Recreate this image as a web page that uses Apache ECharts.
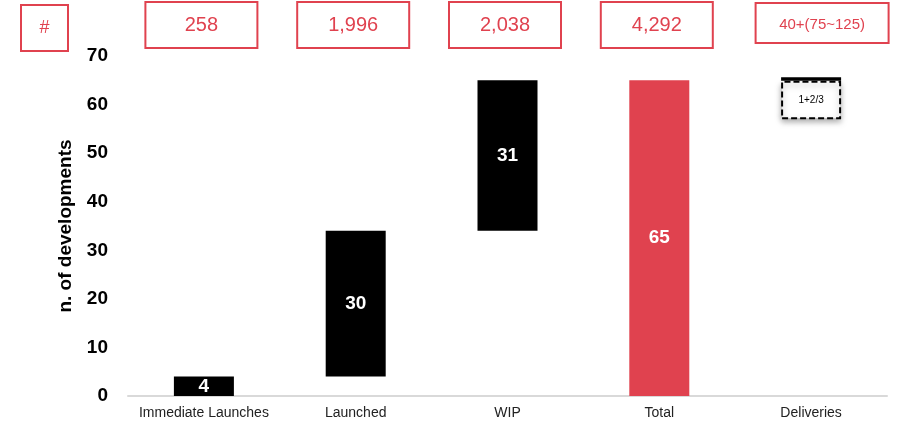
<!DOCTYPE html>
<html><head><meta charset="utf-8">
<script src="https://cdn.jsdelivr.net/npm/echarts@6/dist/echarts.min.js"></script>
<style>html,body{margin:0;padding:0;background:#fff}#c{width:903px;height:424px}</style>
</head><body><div id="c"></div>
<script>
const categories = ['Immediate Launches', 'Launched', 'WIP', 'Total', 'Deliveries'];
const headerLabels = ['258', '1,996', '2,038', '4,292', '40+(75~125)'];
const baseValues = [0, 4, 34, 0, 57];
const barValues = [4, 30, 31, 65, 7.9];
const topCapValues = [0, 0, 0, 0, 0.7];
const deliveriesNote = '1+2/3';
const yTicks = { min: 0, max: 70, interval: 10 };

const RED = '#e0424f';
const FONT = '"Liberation Sans", Arial, sans-serif';

const chart = echarts.init(document.getElementById('c'));
const mainData = barValues.map((v, i) => {
  if (i === 3) return { value: v, itemStyle: { color: RED } };
  if (i === 4) return {
    value: v,
    itemStyle: { color: '#fff', borderColor: '#000', borderWidth: 2, borderType: [6, 3],
      shadowColor: 'rgba(0,0,0,0.35)', shadowBlur: 6, shadowOffsetY: 3 },
    label: { formatter: deliveriesNote, color: '#000', fontSize: 10, fontWeight: 'normal' }
  };
  return { value: v, itemStyle: { color: '#000' } };
});

chart.setOption({
  animation: false,
  textStyle: { fontFamily: FONT },
  grid: { left: 128, right: 16, top: 56, bottom: 28 },
  graphic: [{
    type: 'group', left: 20, top: 4,
    children: [
      { type: 'rect', shape: { x: 0, y: 0, width: 47, height: 46 }, style: { fill: '#fff', stroke: RED, lineWidth: 2 } },
      { type: 'text', x: 23.5, y: 23, style: { text: '#', fill: RED, fontSize: 18, fontFamily: FONT, align: 'center', verticalAlign: 'middle' } }
    ]
  }],
  xAxis: [{
    type: 'category', data: categories, position: 'bottom',
    axisLine: { lineStyle: { color: '#d9d9d9', width: 2 } },
    axisTick: { show: false },
    axisLabel: { color: '#222', fontSize: 14, margin: 10, interval: 0, fontFamily: FONT }
  }, {
    type: 'category', data: headerLabels, position: 'top',
    axisLine: { show: false }, axisTick: { show: false },
    axisLabel: {
      margin: 9, interval: 0,
      formatter: (v, i) => (i === 4 ? '{p|}{s|' + v + '}\n{g|}' : '{n|' + v + '}{q|}'),
      rich: {
        n: { width: 110, height: 44, lineHeight: 44, align: 'center', verticalAlign: 'middle', color: RED, fontSize: 20, borderColor: RED, borderWidth: 2, fontFamily: FONT, backgroundColor: '#fff' },
        q: { width: 5, height: 44, lineHeight: 44 },
        p: { width: 22, height: 38, lineHeight: 38 },
        g: { width: 10, height: 5, lineHeight: 5 },
        s: { width: 131, height: 34, lineHeight: 34, padding: [4, 0, 0, 0], align: 'center', verticalAlign: 'middle', color: RED, fontSize: 15, borderColor: RED, borderWidth: 2, fontFamily: FONT, backgroundColor: '#fff' }
      }
    }
  }],
  yAxis: {
    type: 'value', min: yTicks.min, max: yTicks.max, interval: yTicks.interval,
    name: 'n. of developments', nameLocation: 'middle', nameGap: 53,
    nameTextStyle: { fontSize: 19, fontWeight: 'bold', color: '#000', fontFamily: FONT },
    axisLine: { show: false }, axisTick: { show: false }, splitLine: { show: false },
    axisLabel: { fontSize: 19, fontWeight: 'bold', color: '#000', margin: 20, fontFamily: FONT }
  },
  series: [{
    type: 'bar', stack: 'w', barWidth: 60, data: baseValues,
    itemStyle: { color: 'transparent' }, silent: true
  }, {
    type: 'bar', stack: 'w', barWidth: 60, data: mainData,
    label: { show: true, position: 'inside', color: '#fff', fontSize: 19, fontWeight: 'bold', fontFamily: FONT }
  }, {
    type: 'bar', stack: 'w', barWidth: 60, data: topCapValues,
    itemStyle: { color: '#000' }
  }]
});
</script></body></html>
